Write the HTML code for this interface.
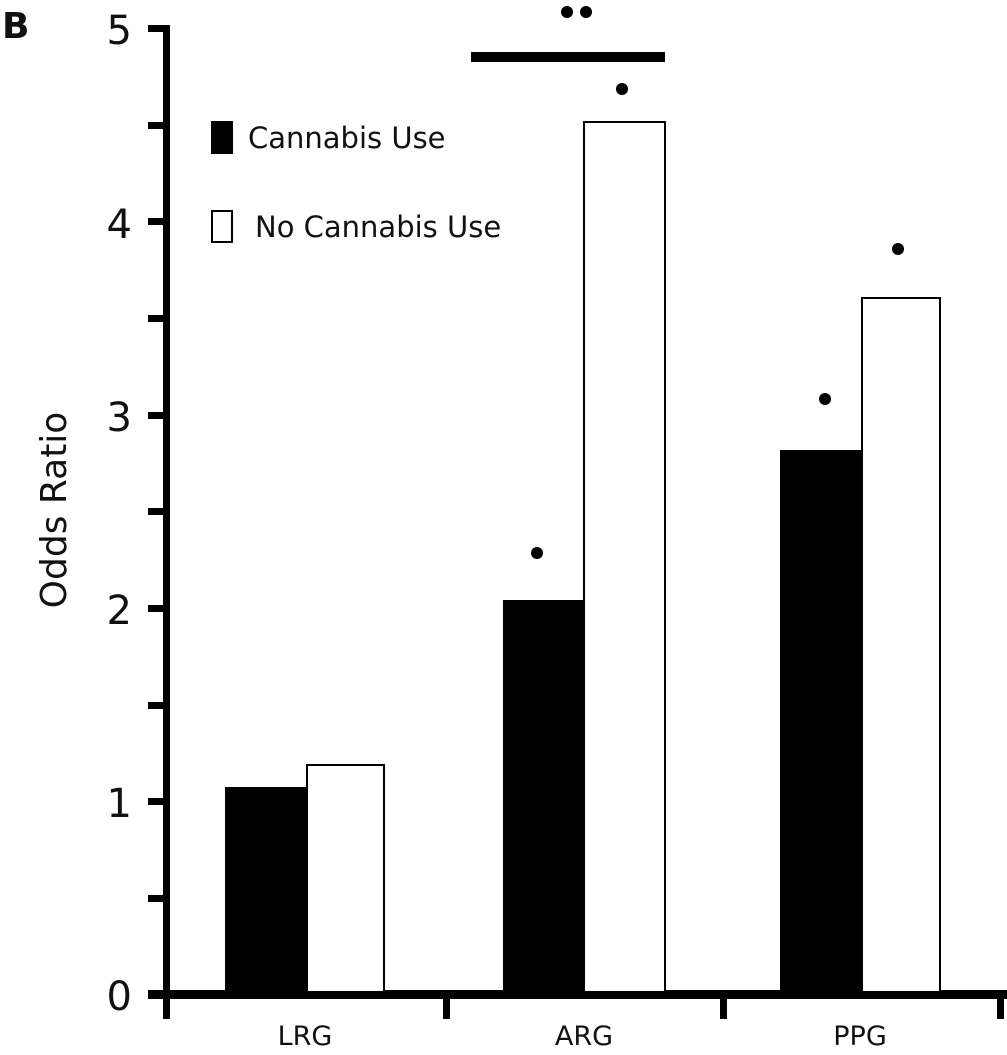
<!DOCTYPE html>
<html><head><style>
body{margin:0;background:#fff}
svg text{font-family:"DejaVu Sans","Liberation Sans",sans-serif;fill:#111}
</style></head><body>
<svg width="1007" height="1050" viewBox="0 0 1007 1050">
<text x="2" y="38" font-size="36" font-weight="bold" font-family="Liberation Sans">B</text>
<rect x="163" y="25" width="7" height="975" fill="#000"/>
<rect x="148" y="990" width="859" height="9" fill="#000"/>
<g fill="#000">
<rect x="148" y="25" width="18" height="7"/>
<rect x="148" y="122" width="18" height="7"/>
<rect x="148" y="218" width="18" height="7"/>
<rect x="148" y="315" width="18" height="7"/>
<rect x="148" y="412" width="18" height="7"/>
<rect x="148" y="508" width="18" height="7"/>
<rect x="148" y="605" width="18" height="7"/>
<rect x="148" y="702" width="18" height="7"/>
<rect x="148" y="798" width="18" height="7"/>
<rect x="148" y="895" width="18" height="7"/>
<rect x="163" y="995" width="7" height="24"/>
<rect x="443" y="995" width="7" height="24"/>
<rect x="720" y="995" width="7" height="24"/>
<rect x="997" y="995" width="7" height="24"/>
</g>
<g font-size="40" text-anchor="end">
<text x="132" y="44">5</text>
<text x="132" y="238">4</text>
<text x="132" y="431">3</text>
<text x="132" y="624">2</text>
<text x="132" y="817">1</text>
<text x="132" y="1010">0</text>
</g>
<text transform="translate(66,510) rotate(-90)" font-size="36" text-anchor="middle">Odds Ratio</text>
<rect x="225" y="787" width="82" height="205" fill="#000"/>
<rect x="307" y="765" width="77" height="227" fill="#fff" stroke="#000" stroke-width="2"/>
<rect x="503" y="600" width="81" height="392" fill="#000"/>
<rect x="584" y="122" width="81" height="870" fill="#fff" stroke="#000" stroke-width="2"/>
<rect x="780" y="450" width="82" height="542" fill="#000"/>
<rect x="862" y="298" width="78" height="694" fill="#fff" stroke="#000" stroke-width="2"/>
<g fill="#000">
<circle cx="537" cy="553" r="6"/>
<circle cx="622" cy="89" r="6"/>
<circle cx="825" cy="399" r="6"/>
<circle cx="898" cy="249" r="6"/>
<circle cx="567" cy="12" r="6"/>
<circle cx="586" cy="12" r="6"/>
<rect x="471" y="52" width="194" height="10"/>
</g>
<rect x="211" y="121" width="22" height="33" fill="#000"/>
<text x="248" y="148" font-size="29">Cannabis Use</text>
<rect x="212" y="211" width="20" height="31" fill="#fff" stroke="#000" stroke-width="2"/>
<text x="255" y="237" font-size="29">No Cannabis Use</text>
<g font-size="27" text-anchor="middle">
<text x="305" y="1045">LRG</text>
<text x="584" y="1045">ARG</text>
<text x="860" y="1045">PPG</text>
</g>
</svg>
</body></html>
